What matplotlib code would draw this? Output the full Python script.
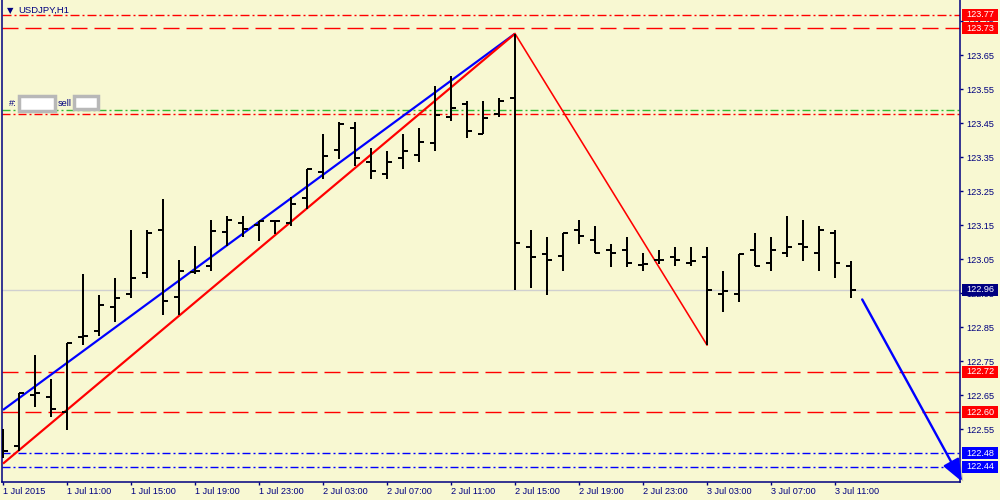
import numpy as np
import matplotlib
matplotlib.use("Agg")
import matplotlib.pyplot as plt
import matplotlib.transforms as mtransforms
import matplotlib.patheffects as pe
from matplotlib.patches import Rectangle, FancyArrowPatch

# ---------------- data ----------------
symbol_title = "USDJPY,H1"
opens = [122.530, 122.500, 122.651, 122.646, 122.600, 122.822, 122.840, 122.910, 122.947, 123.011,
         123.136, 122.939, 123.012, 123.030, 123.130, 123.156, 123.152, 123.162, 123.157, 123.230,
         123.308, 123.371, 123.437, 123.335, 123.301, 123.349, 123.357, 123.391, 123.468, 123.506,
         123.420, 123.478, 123.525, 123.086, 123.066, 123.059, 123.136, 123.107, 123.078, 123.078,
         123.032, 123.049, 123.058, 123.040, 123.056, 122.947, 122.947, 123.078, 123.040, 123.068,
         123.095, 123.068, 123.127, 123.029]
highs = [122.551, 122.656, 122.768, 122.697, 122.804, 123.008, 122.946, 122.996, 123.136, 123.136,
         123.227, 123.047, 123.088, 123.166, 123.178, 123.178, 123.164, 123.164, 123.234, 123.317,
         123.418, 123.455, 123.455, 123.377, 123.369, 123.418, 123.437, 123.559, 123.588, 123.517,
         123.517, 123.525, 123.714, 123.136, 123.117, 123.127, 123.166, 123.149, 123.095, 123.117,
         123.068, 123.078, 123.086, 123.086, 123.086, 123.015, 123.066, 123.127, 123.117, 123.178,
         123.166, 123.149, 123.136, 123.045]
lows = [122.466, 122.485, 122.617, 122.586, 122.549, 122.798, 122.824, 122.866, 122.937, 122.996,
        122.886, 122.886, 123.008, 123.015, 123.088, 123.117, 123.105, 123.125, 123.147, 123.198,
        123.286, 123.346, 123.325, 123.286, 123.286, 123.317, 123.335, 123.369, 123.457, 123.406,
        123.420, 123.468, 122.959, 122.965, 122.946, 123.015, 123.095, 123.068, 123.027, 123.027,
        123.015, 123.037, 123.029, 123.029, 122.798, 122.895, 122.925, 123.029, 123.015, 123.058,
        123.045, 123.015, 122.996, 122.937]
closes = [122.485, 122.656, 122.656, 122.609, 122.804, 122.825, 122.915, 122.936, 122.995, 123.127,
          122.927, 123.015, 123.015, 123.134, 123.166, 123.139, 123.164, 123.164, 123.214, 123.317,
          123.354, 123.447, 123.349, 123.310, 123.337, 123.369, 123.396, 123.476, 123.496, 123.429,
          123.466, 123.515, 123.097, 123.058, 123.047, 123.127, 123.120, 123.068, 123.068, 123.040,
          123.037, 123.047, 123.049, 123.045, 122.961, 122.957, 123.066, 123.029, 123.078, 123.086,
          123.086, 123.136, 123.039, 122.959]

time_tick_bars = [0, 4, 8, 12, 16, 20, 24, 28, 32, 36, 40, 44, 48, 52]
time_tick_labels = ["1 Jul 2015", "1 Jul 11:00", "1 Jul 15:00", "1 Jul 19:00", "1 Jul 23:00",
                    "2 Jul 03:00", "2 Jul 07:00", "2 Jul 11:00", "2 Jul 15:00", "2 Jul 19:00",
                    "2 Jul 23:00", "3 Jul 03:00", "3 Jul 07:00", "3 Jul 11:00"]
price_ticks = [122.55, 122.65, 122.75, 122.85, 122.95, 123.05, 123.15, 123.25, 123.35,
               123.45, 123.55, 123.65, 123.75]

# labelled horizontal levels
level_prices = [123.77, 123.73, 122.72, 122.60, 122.48, 122.44]
level_colors = ["#FF0000", "#FF0000", "#FF0000", "#FF0000", "#0000FF", "#0000FF"]
level_kinds = ["dashdotdot", "dash", "dash", "dash", "dashdot", "dashdot"]
# unlabelled order levels
order_prices = [123.490, 123.478]
order_colors = ["#33BB33", "#FF0000"]
bid_price = 122.96

# trend lines (bar index, price)
blue_trend_x = [0, 32]
blue_trend_y = [122.607, 123.714]
red_trend_x = [0, 32]
red_trend_y = [122.449, 123.714]
zigzag_x = [32, 44]
zigzag_y = [123.714, 122.798]
arrow_x = [53.7, 59.94]
arrow_y = [122.932, 122.396]

# ---------------- style ----------------
BG = "#F8F8D2"
NAVY = "#000080"
PX = 0.72  # points per pixel at dpi 100
FONT = ["Liberation Sans", "DejaVu Sans"]
plt.rcParams["font.family"] = FONT

fig = plt.figure(figsize=(10, 5), dpi=100, facecolor=BG)
ax = fig.add_axes([0.002, 18 / 500, 0.958, 482 / 500])
ax.set_facecolor(BG)

x = np.arange(len(opens))
ax.set_xlim(-0.0625, 59.8125)
ax.set_ylim(122.395, 123.813)

dash_styles = {
    "dash": (0, (16 * PX, 7 * PX)),
    "dashdot": (0, (8 * PX, 3 * PX, 2 * PX, 3 * PX)),
    "dashdotdot": (0, (9 * PX, 3 * PX, 2 * PX, 3 * PX)),
}
for p, c, k in zip(level_prices, level_colors, level_kinds):
    ax.axhline(p, color=c, lw=1.0, linestyle=dash_styles[k], zorder=1)
for p, c in zip(order_prices, order_colors):
    ax.axhline(p, color=c, lw=1.0, linestyle=dash_styles["dashdot"], zorder=1)
ax.axhline(bid_price, color="#D0D0D0", lw=1.0, zorder=1)

# trendlines
ax.plot(blue_trend_x, blue_trend_y, color="#0000FF", lw=2.2 * PX, zorder=3, solid_capstyle="butt")
ax.plot(red_trend_x, red_trend_y, color="#FF0000", lw=2.2 * PX, zorder=3, solid_capstyle="butt")
ax.plot(zigzag_x, zigzag_y, color="#FF0000", lw=1.6 * PX, zorder=3)

# bar chart
bw = 2 * PX
ax.vlines(x, lows, highs, colors="black", lw=bw, zorder=4)
ax.hlines(opens, x - 0.3, x, colors="black", lw=bw, zorder=4)
ax.hlines(closes, x, x + 0.3, colors="black", lw=bw, zorder=4)

# axes styling
ax.spines["top"].set_visible(False)
for s in ["left", "bottom", "right"]:
    ax.spines[s].set_color(NAVY)
    ax.spines[s].set_linewidth(1.1)
ax.yaxis.tick_right()
ax.set_yticks(price_ticks)
ax.set_yticklabels([f"{v:.2f}" for v in price_ticks])
ax.tick_params(axis="y", direction="out", length=3 * PX, width=1, color=NAVY,
               labelcolor=NAVY, labelsize=6.6, pad=3.5 * PX)
ax.set_xticks(time_tick_bars)
ax.set_xticklabels(time_tick_labels)
ax.tick_params(axis="x", direction="out", length=3 * PX, width=1, color=NAVY,
               labelcolor=NAVY, labelsize=6.6, pad=2.0 * PX)
for lbl in ax.get_xticklabels():
    lbl.set_horizontalalignment("left")

# price labels on the right axis
tr = mtransforms.blended_transform_factory(ax.transAxes, ax.transData)
box_h = 12 / 340.0
x0 = (962 - 2) / 958
x1 = (998 - 2) / 958
xt = (966 - 2) / 958
box_prices = level_prices + [bid_price]
box_colors = ["#FF0000", "#FF0000", "#FF0000", "#FF0000", "#0000FF", "#0000FF", NAVY]
for p, c in zip(box_prices, box_colors):
    ax.add_patch(Rectangle((x0, p - box_h / 2), x1 - x0, box_h, transform=tr,
                           facecolor=c, edgecolor="none", clip_on=False, zorder=10))
    ax.text(xt, p, f"{p:.2f}", transform=tr, color="white", fontsize=6.6,
            va="center", ha="left", clip_on=False, zorder=11)

# arrow (drawn above the price boxes)
arr = FancyArrowPatch((arrow_x[0], arrow_y[0]), (arrow_x[1], arrow_y[1]),
                      arrowstyle="-|>,head_length=0.75,head_width=0.3", mutation_scale=18,
                      color="#0000FF", lw=2.4 * PX, clip_on=False, zorder=12,
                      shrinkA=0, shrinkB=0)
arr.set_path_effects([pe.SimplePatchShadow(offset=(2, -2), shadow_rgbFace="#777777", alpha=0.35),
                      pe.Normal()])
ax.add_patch(arr)

# title
fig.text(6.5 / 1000, 1 - 10.5 / 500, "\u25bc", fontsize=6, color=NAVY, va="center", ha="left",
         family=["DejaVu Sans"])
fig.text(18.5 / 1000, 1 - 10.5 / 500, symbol_title, fontsize=6.8, color=NAVY, va="center", ha="left")

# order labels (blurred boxes)
fig.text(9 / 1000, 1 - 103 / 500, "#:", fontsize=6.6, color=NAVY, va="center", ha="left")
fig.text(58 / 1000, 1 - 103 / 500, "sell", fontsize=6.6, color=NAVY, va="center", ha="left")
for (bx0, by0, bx1, by1) in [(19, 96, 55, 111), (74, 96, 98, 109)]:
    r = Rectangle((bx0 / 1000, 1 - by1 / 500), (bx1 - bx0) / 1000, (by1 - by0) / 500,
                  transform=fig.transFigure, facecolor="white", edgecolor="#B8B8B8",
                  lw=2.5, zorder=20)
    r.set_path_effects([pe.SimplePatchShadow(offset=(1.5, -1.5), shadow_rgbFace="#999999", alpha=0.4),
                        pe.Normal()])
    fig.add_artist(r)

fig.savefig("out.png", dpi=100, facecolor=BG)
